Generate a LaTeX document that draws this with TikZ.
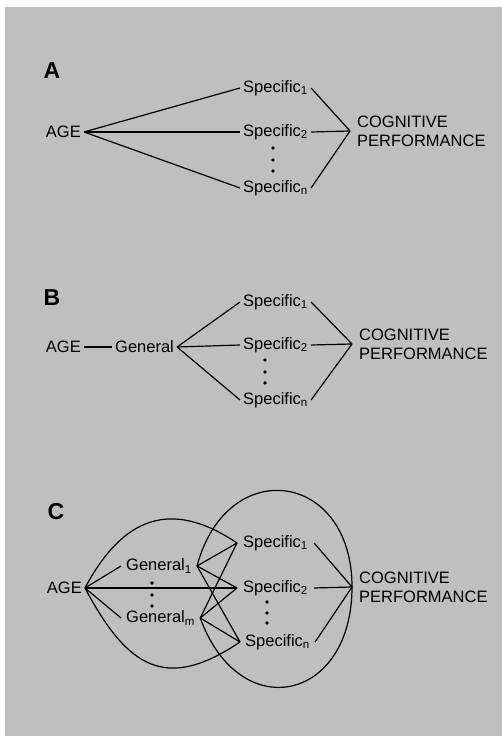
\documentclass[tikz,border=0pt]{standalone}
\usepackage{fontspec}
\setmainfont{Liberation Sans}
\usetikzlibrary{arrows.meta}

\definecolor{halftone}{gray}{0.75}

\begin{document}
\begin{tikzpicture}[x=1pt,y=1pt,
  lbl/.style={font=\fontsize{16.5}{19}\selectfont, inner xsep=3pt, inner ysep=2pt},
  cogn/.style={lbl, align=left, anchor=west, inner xsep=7pt},
  panel/.style={font=\fontsize{23}{26}\selectfont\bfseries},
  link/.style={line width=1.2pt}]
\useasboundingbox (0,0) rectangle (502,736);
\fill[white] (0,0) rectangle (502,736);
\fill[halftone] (5,0) rectangle (502,729);

% panel A
\node[panel] (labA) at (52,665) {A};
\node[lbl, anchor=east] (ageA) at (84,604) {AGE};
\node[lbl, anchor=west] (s1A) at (240,648) {Specific\textsubscript{1}};
\node[lbl, anchor=west] (s2A) at (240,604) {Specific\textsubscript{2}};
\node[lbl, anchor=west] (snA) at (240,548) {Specific\textsubscript{n}};
\node[cogn] (cpA) at (350,605) {COGNITIVE\\PERFORMANCE};
\foreach \y in {588,576,565} \fill (273,\y) circle (1.8);
\foreach \s in {s1A,s2A,snA} {
  \draw[link] (ageA.east) -- (\s.west);
  \draw[link] (\s.east) -- (cpA.west);
}

% panel B
\node[panel] (labB) at (52,438) {B};
\node[lbl, anchor=east] (ageB) at (84,389) {AGE};
\node[lbl, anchor=west] (genB) at (112,389) {General};
\node[lbl, anchor=west] (s1B) at (240,434) {Specific\textsubscript{1}};
\node[lbl, anchor=west] (s2B) at (240,391) {Specific\textsubscript{2}};
\node[lbl, anchor=west] (snB) at (240,336) {Specific\textsubscript{n}};
\node[cogn] (cpB) at (352,392) {COGNITIVE\\PERFORMANCE};
\foreach \y in {376,364,353} \fill (265,\y) circle (1.8);
\draw[link] (ageB.east) -- (genB.west);
\foreach \s in {s1B,s2B,snB} {
  \draw[link] (genB.east) -- (\s.west);
  \draw[link] (\s.east) -- (cpB.west);
}

% panel C
\node[panel] (labC) at (56,224) {C};
\node[lbl, anchor=east] (ageC) at (85,148) {AGE};
\node[lbl, anchor=west, inner xsep=5pt] (g1C) at (121,170) {General\textsubscript{1}};
\node[lbl, anchor=west, inner xsep=5pt] (gmC) at (121,118) {General\textsubscript{m}};
\node[lbl, anchor=west, inner xsep=6pt] (s1C) at (237,193) {Specific\textsubscript{1}};
\node[lbl, anchor=west, inner xsep=6pt] (s2C) at (237,148) {Specific\textsubscript{2}};
\node[lbl, anchor=west, inner xsep=5pt] (snC) at (240,94) {Specific\textsubscript{n}};
\node[cogn] (cpC) at (352,149) {COGNITIVE\\PERFORMANCE};
\foreach \y in {153,141,130} \fill (152,\y) circle (1.8);
\foreach \y in {134,123,113} \fill (267,\y) circle (1.8);
\draw[link] (ageC.east) -- (g1C.west);
\draw[link] (ageC.east) -- (gmC.west);
\draw[link] (ageC.east) -- (s2C.west);
\draw[link] (ageC.east) .. controls +(62:80) and +(146:80) .. (s1C.west);
\draw[link] (ageC.east) .. controls +(-62:90) and +(-146:90) .. (snC.west);
\foreach \g in {g1C,gmC} {
  \foreach \s in {s1C,s2C,snC}
    \draw[link] (\g.east) -- (\s.west);
}
\foreach \s in {s1C,s2C,snC}
  \draw[link] (\s.east) -- (cpC.west);
\draw[link] (g1C.east) .. controls +(75:116) and +(90:116) .. (cpC.west);
\draw[link] (gmC.east) .. controls +(-70:115) and +(-90:115) .. (cpC.west);
\end{tikzpicture}
\end{document}
